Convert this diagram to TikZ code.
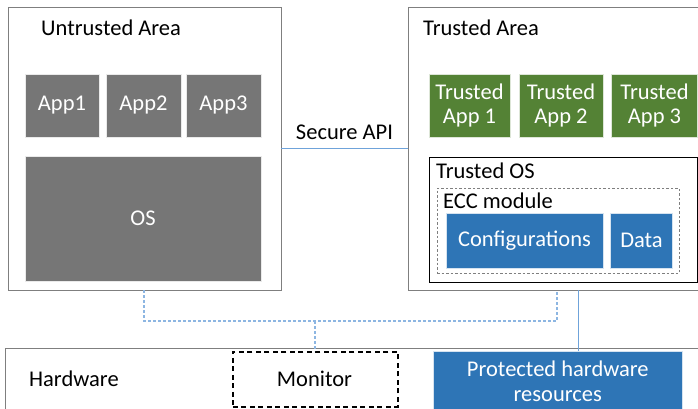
\documentclass[tikz,border=0pt]{standalone}
\usepackage{fontspec}
\setmainfont{Carlito}
\definecolor{boxgray}{HTML}{7F7F7F}
\definecolor{appgray}{HTML}{767676}
\definecolor{tgreen}{HTML}{548235}
\definecolor{tblue}{HTML}{2E75B6}
\definecolor{lblue}{HTML}{8DB6E2}
\definecolor{lblue2}{HTML}{6FA3DA}
\tikzset{
  area/.style={draw=boxgray, line width=0.9pt, fill=white, inner sep=0pt},
  gbox/.style={fill=appgray, draw=white!85!appgray, line width=0.6pt, text=white, inner sep=0pt, align=center},
  greenbox/.style={fill=tgreen, draw=white!80!tgreen, line width=0.6pt, text=white, inner sep=0pt, align=center},
  bluebox/.style={fill=tblue, draw=white!80!tblue, line width=0.6pt, text=white, inner sep=0pt, align=center},
  title/.style={inner sep=0pt, anchor=west, text=black},
  link/.style={draw=lblue2, line width=0.9pt},
  dlink/.style={draw=lblue, line width=1.1pt, dash pattern=on 3pt off 2pt},
}
\begin{document}
\begin{tikzpicture}[x=1pt, y=-1pt, font=\fontsize{22.5}{24.5}\selectfont]
\useasboundingbox (0,0) rectangle (698,408);
\begin{scope}
\clip (0,0) rectangle (698,408);
% Untrusted area
\node[area, minimum width=273, minimum height=283] (ua) at (144.5,148.5) {};
\node[title] (uat) at (41,28) {Untrusted Area};
\node[gbox, minimum width=74, minimum height=63] (a1) at (62,105.5) {App1};
\node[gbox, minimum width=75, minimum height=63] (a2) at (143.5,105.5) {App2};
\node[gbox, minimum width=75, minimum height=63] (a3) at (223.5,105.5) {App3};
\node[gbox, minimum width=236, minimum height=125] (os) at (143,218.5) {OS};
% Trusted area
\node[area, minimum width=300, minimum height=283] (ta) at (558,148.5) {};
\node[title] (tat) at (423,28) {Trusted Area};
\node[greenbox, minimum width=81, minimum height=63] (t1) at (469.5,105.5) {Trusted\\App 1};
\node[greenbox, minimum width=84, minimum height=63] (t2) at (561,105.5) {Trusted\\App 2};
\node[greenbox, minimum width=86, minimum height=63] (t3) at (654.5,105.5) {Trusted\\App 3};
\node[draw=black, line width=0.8pt, minimum width=268, minimum height=125, inner sep=0pt] (tos) at (563,219.5) {};
\node[title] (tost) at (436,171) {Trusted OS};
\node[draw=boxgray, line width=0.8pt, dash pattern=on 2.5pt off 2pt, minimum width=242, minimum height=85, inner sep=0pt] (ecc) at (558,230.5) {};
\node[title] (ecct) at (443,201) {ECC module};
\node[bluebox, minimum width=157, minimum height=55] (cfg) at (524.5,240.5) {Configurations};
\node[bluebox, minimum width=62, minimum height=55] (dat) at (641.5,240.5) {Data};
% Hardware
\node[area, minimum width=710, minimum height=100, anchor=north west] (hw) at (5,348) {};
\node[title] (hwt) at (29,379) {Hardware};
\node[draw=black, line width=1.6pt, dash pattern=on 5pt off 3.5pt, minimum width=165, minimum height=55, inner sep=0pt, anchor=north west] (mon) at (232,351) {};
\node (mont) at (314.5,379) {Monitor};
\node[bluebox, minimum width=249, minimum height=60, anchor=north west] (phr) at (433,351) {Protected hardware\\resources};
% connectors
\draw[link] (ua.east |- 0,148) -- (ta.west |- 0,148) node[midway, above=8pt, inner sep=0pt, text=black] (api) {Secure API};
\coordinate (jl) at (144,321);
\coordinate (jr) at (557,321);
\coordinate (jm) at (315,321);
\draw[dlink] (ua.south -| jl) -- (jl) -- (jr) -- (ta.south -| jr);
\draw[dlink] (jm) -- (mon.north -| jm);
\draw[link] (ta.south -| 578,0) -- (phr.north -| 578,0);
\end{scope}
\end{tikzpicture}
\end{document}
